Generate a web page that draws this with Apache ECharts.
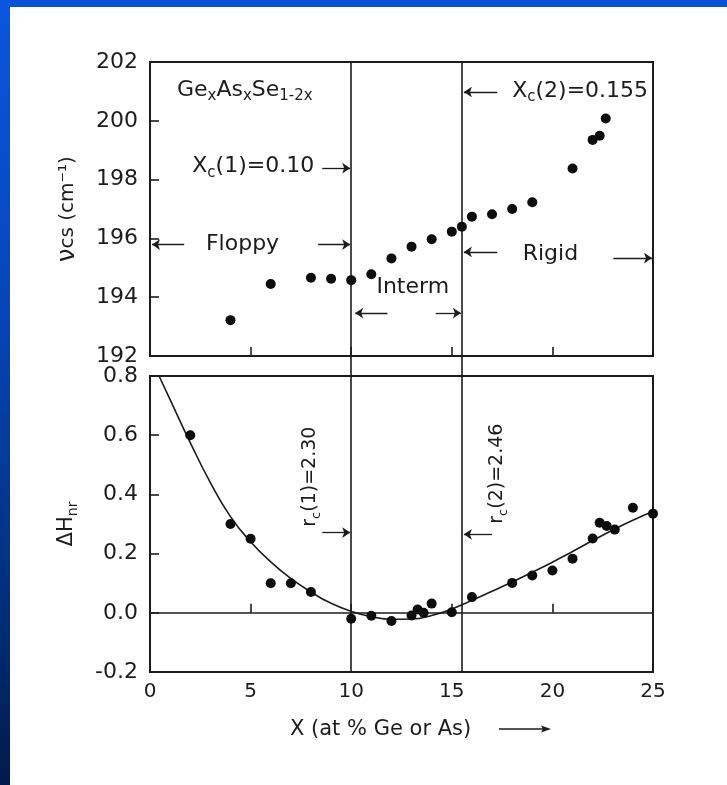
<!DOCTYPE html>
<html>
<head>
<meta charset="utf-8">
<script src="https://cdn.jsdelivr.net/npm/echarts@6/dist/echarts.min.js"></script>
<style>
html,body{margin:0;padding:0;background:#fff;}
#wrap{position:relative;width:727px;height:785px;background:#fff;overflow:hidden;}
#chart{position:absolute;left:0;top:0;width:727px;height:785px;}
#topband{position:absolute;left:0;top:0;width:727px;height:7px;background:#0a52d8;z-index:2;}
#leftband{position:absolute;left:0;top:0;width:10px;height:785px;background:linear-gradient(to bottom,#0a56e0 0%,#0645b8 40%,#02307e 75%,#011a4a 100%);z-index:2;}
</style>
</head>
<body>
<div id="wrap"><div id="chart"></div><div id="topband"></div><div id="leftband"></div></div>
<script>
// ---------- data ----------
const xTickValues = [0, 5, 10, 15, 20, 25];
const topYTicks = [192, 194, 196, 198, 200, 202];
const bottomYTicks = [-0.2, 0.0, 0.2, 0.4, 0.6, 0.8];

// upper panel: nu_CS (cm^-1) vs x
const nuX = [4, 6, 8, 9, 10, 11, 12, 13, 14, 15, 15.5, 16, 17, 18, 19, 21, 22, 22.35, 22.65];
const nuY = [193.22, 194.45, 194.66, 194.63, 194.58, 194.78, 195.32, 195.72, 195.97, 196.23, 196.40, 196.74, 196.82, 197.0, 197.23, 198.38, 199.35, 199.49, 200.08];

// lower panel: Delta H_nr vs x
const dhX = [2, 4, 5, 6, 7, 8, 10, 11, 12, 13, 13.3, 13.6, 14, 15, 16, 18, 19, 20, 21, 22, 22.35, 22.7, 23.1, 24, 25];
const dhY = [0.60, 0.30, 0.25, 0.10, 0.10, 0.07, -0.02, -0.01, -0.028, -0.009, 0.011, 0.0, 0.031, 0.002, 0.053, 0.101, 0.126, 0.143, 0.183, 0.251, 0.304, 0.293, 0.281, 0.355, 0.335];

// fitted curve
const fitX = [0.45, 1, 2, 3, 4, 5, 6, 7, 8, 9, 10, 11, 12, 13, 14, 15, 16, 17, 18, 19, 20, 21, 22, 23, 24, 25];
const fitY = [0.80, 0.72, 0.575, 0.44, 0.325, 0.24, 0.172, 0.116, 0.07, 0.032, 0.005, -0.013, -0.022, -0.021, -0.009, 0.013, 0.042, 0.073, 0.104, 0.137, 0.171, 0.207, 0.244, 0.280, 0.313, 0.342];

// thresholds
const thresholds = [10, 15.5];

// annotation arrows [x1,y1,x2,y2] (tail -> head), data coords
const topArrows = [
  [8.56, 198.39, 9.95, 198.39],
  [1.7, 195.79, 0.1, 195.79],
  [8.36, 195.79, 9.95, 195.79],
  [11.8, 193.46, 10.2, 193.46],
  [14.2, 193.46, 15.45, 193.46],
  [17.26, 200.98, 15.6, 200.98],
  [17.26, 195.54, 15.6, 195.54],
  [23.03, 195.33, 24.95, 195.33]
];
const bottomArrows = [
  [8.56, 0.271, 9.95, 0.271],
  [17.0, 0.265, 15.6, 0.265]
];
// ---------- chart ----------
const FONT = '"DejaVu Sans", "Liberation Sans", Arial, sans-serif';
const INK = '#1c1c1c';
const chart = echarts.init(document.getElementById('chart'), null, {renderer: 'canvas'});

const gridL = 150, gridR = 74;
function zip(a, b) { return a.map((v, i) => [v, b[i]]); }
function arrowData(list) {
  return list.map(a => [{coord: [a[0], a[1]]}, {coord: [a[2], a[3]]}]);
}
const tickStyle = {show: true, inside: true, length: 9, lineStyle: {color: INK, width: 1.6}};

const option = {
  animation: false,
  textStyle: {fontFamily: FONT, color: INK},
  grid: [
    {left: gridL, right: gridR, top: 62, height: 294, show: true, borderColor: INK, borderWidth: 2, backgroundColor: 'transparent'},
    {left: gridL, right: gridR, top: 376, height: 296, show: true, borderColor: INK, borderWidth: 2, backgroundColor: 'transparent'},
    {left: gridL, right: gridR, top: 62, bottom: 113, show: false}
  ],
  xAxis: [
    {gridIndex: 0, type: 'value', min: 0, max: 25, interval: 5, axisLine: {show: false}, axisTick: tickStyle, axisLabel: {show: false}, splitLine: {show: false}},
    {gridIndex: 1, type: 'value', min: 0, max: 25, interval: 5, axisLine: {show: false}, axisTick: tickStyle,
      axisLabel: {show: true, fontSize: 20, color: INK, fontFamily: FONT, margin: 10,
        formatter: v => xTickValues.includes(v) ? String(v) : ''}, splitLine: {show: false}},
    {gridIndex: 2, type: 'value', min: 0, max: 25, show: false}
  ],
  yAxis: [
    {gridIndex: 0, type: 'value', min: 192, max: 202, interval: 2, axisLine: {show: false}, axisTick: tickStyle,
      axisLabel: {fontSize: 22, color: INK, fontFamily: FONT, margin: 12, formatter: v => topYTicks.includes(v) ? String(v) : ''},
      splitLine: {show: false},
      name: '{nu|ν}{b|cs (cm⁻¹)}', nameLocation: 'middle', nameGap: 70, nameRotate: 90,
      nameTextStyle: {rich: {nu: {fontSize: 24, fontFamily: FONT, color: INK}, b: {fontSize: 20, fontFamily: FONT, color: INK}}}
    },
    {gridIndex: 1, type: 'value', min: -0.2, max: 0.8, interval: 0.2, axisLine: {show: false}, axisTick: tickStyle,
      axisLabel: {fontSize: 22, color: INK, fontFamily: FONT, margin: 12, formatter: v => v.toFixed(1)},
      splitLine: {show: false},
      name: '{b|ΔH}{s|nr}', nameLocation: 'middle', nameGap: 70, nameRotate: 90,
      nameTextStyle: {rich: {b: {fontSize: 21, fontFamily: FONT, color: INK, lineHeight: 26}, s: {fontSize: 14, fontFamily: FONT, color: INK, verticalAlign: 'bottom', padding: [12, 0, 0, 0], lineHeight: 14}}}
    },
    {gridIndex: 2, type: 'value', min: -0.2, max: 0.8, show: false}
  ],
  series: [
    {type: 'scatter', xAxisIndex: 0, yAxisIndex: 0, data: zip(nuX, nuY), symbolSize: 10, itemStyle: {color: '#0d0d0d', opacity: 1}, z: 5, silent: true},
    {type: 'line', xAxisIndex: 0, yAxisIndex: 0, data: [], silent: true,
      markLine: {silent: true, symbol: ['none', 'arrow'], symbolSize: 8, label: {show: false},
        lineStyle: {color: INK, width: 1.3, type: 'solid'}, emphasis: {disabled: true}, data: arrowData(topArrows)}},
    {type: 'line', xAxisIndex: 1, yAxisIndex: 1, data: zip(fitX, fitY), smooth: true, symbol: 'none', lineStyle: {color: INK, width: 1.6}, silent: true, z: 3},
    {type: 'scatter', xAxisIndex: 1, yAxisIndex: 1, data: zip(dhX, dhY), symbolSize: 10, itemStyle: {color: '#0d0d0d', opacity: 1}, z: 5, silent: true},
    {type: 'line', xAxisIndex: 1, yAxisIndex: 1, data: [], silent: true,
      markLine: {silent: true, symbol: ['none', 'arrow'], symbolSize: 8, label: {show: false},
        lineStyle: {color: INK, width: 1.3, type: 'solid'}, emphasis: {disabled: true},
        data: arrowData(bottomArrows)}},
    {type: 'line', xAxisIndex: 1, yAxisIndex: 1, data: [], silent: true,
      markLine: {silent: true, symbol: ['none', 'none'], label: {show: false},
        lineStyle: {color: INK, width: 1.6, type: 'solid'}, emphasis: {disabled: true},
        data: [{yAxis: 0}]}},
    {type: 'line', xAxisIndex: 2, yAxisIndex: 2, data: [], silent: true,
      markLine: {silent: true, symbol: ['none', 'none'], label: {show: false},
        lineStyle: {color: INK, width: 1.6, type: 'solid'}, emphasis: {disabled: true},
        data: thresholds.map(t => ({xAxis: t}))}}
  ]
};
chart.setOption(option);

// ---------- text annotations ----------
const P0 = p => chart.convertToPixel({gridIndex: 0}, p);
const P1 = p => chart.convertToPixel({gridIndex: 1}, p);
const base = {fontFamily: FONT, fill: INK};
const richSub = {
  b: {fontSize: 22, fontFamily: FONT, color: INK, lineHeight: 28},
  s: {fontSize: 15, fontFamily: FONT, color: INK, verticalAlign: 'bottom', padding: [13, 0, 0, 0], lineHeight: 15}
};
const richSubV = {
  b: {fontSize: 19, fontFamily: FONT, color: INK, lineHeight: 26},
  s: {fontSize: 13, fontFamily: FONT, color: INK, verticalAlign: 'bottom', padding: [12, 0, 0, 0], lineHeight: 14}
};
function txt(pt, text, align) {
  return {type: 'text', x: pt[0], y: pt[1], silent: true,
    style: Object.assign({}, base, {text: text, fontSize: 22, textAlign: align || 'left', textVerticalAlign: 'middle'})};
}
function richTxt(pt, text, align, rotation, rich) {
  return {type: 'text', x: pt[0], y: pt[1], rotation: rotation || 0, silent: true,
    style: {text: text, rich: rich || richSub, fontFamily: FONT, fill: INK, textAlign: align || 'left', textVerticalAlign: 'middle'}};
}
const graphics = [
  richTxt(P0([1.34, 201.05]), '{b|Ge}{s|x}{b|As}{s|x}{b|Se}{s|1-2x}', 'left'),
  richTxt(P0([2.1, 198.45]), '{b|X}{s|c}{b|(1)=0.10}', 'left'),
  txt(P0([4.6, 195.8]), 'Floppy', 'center'),
  txt(P0([13.06, 194.35]), 'Interm', 'center'),
  richTxt(P0([18.0, 201.02]), '{b|X}{s|c}{b|(2)=0.155}', 'left'),
  txt(P0([19.9, 195.45]), 'Rigid', 'center'),
  richTxt(P1([7.96, 0.46]), '{b|r}{s|c}{b|(1)=2.30}', 'center', Math.PI / 2, richSubV),
  richTxt(P1([17.26, 0.47]), '{b|r}{s|c}{b|(2)=2.46}', 'center', Math.PI / 2, richSubV),
  {type: 'text', x: 290, y: 730, silent: true, style: Object.assign({}, base, {text: 'X (at % Ge or As)', fontSize: 21, textAlign: 'left', textVerticalAlign: 'middle'})},
  {type: 'line', silent: true, shape: {x1: 499, y1: 729, x2: 545, y2: 729}, style: {stroke: INK, lineWidth: 1.4}},
  {type: 'polygon', silent: true, shape: {points: [[551, 729], [541, 725.5], [543, 729], [541, 732.5]]}, style: {fill: INK}}
];
chart.setOption({graphic: graphics});
</script>
</body>
</html>
